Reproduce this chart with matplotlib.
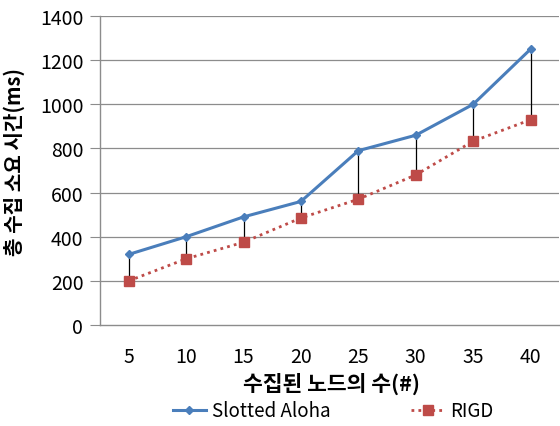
import numpy as np
import matplotlib
matplotlib.use("Agg")
import matplotlib.pyplot as plt

plt.rcParams['font.family'] = ['Noto Sans CJK KR', 'DejaVu Sans']

categories = ["5", "10", "15", "20", "25", "30", "35", "40"]
slotted_aloha = [320, 400, 490, 560, 790, 860, 1000, 1250]
rigd = [200, 300, 375, 485, 570, 680, 833, 930]

blue = "#4a7ebb"
red = "#be4b48"
grid_c = "#8c8c8c"

fig = plt.figure(figsize=(5.6, 4.27), dpi=100)
ax = fig.add_axes([0.1786, 0.2365, 0.82, 0.7235])

x = np.arange(len(categories))

for y in range(200, 1401, 200):
    ax.axhline(y, color=grid_c, lw=0.9, zorder=0)

# high-low lines between the two series
ax.vlines(x, rigd, slotted_aloha, color="black", lw=0.9, zorder=2)

ax.plot(x, slotted_aloha, color=blue, lw=2.2, marker="D", ms=4,
        mfc=blue, mec=blue, label="Slotted Aloha", zorder=3)
ax.plot(x, rigd, color=red, lw=2, ls=(0, (1, 1.5)), marker="s", ms=7,
        mfc=red, mec=red, label="RIGD", zorder=3)

ax.set_xlim(-0.5, len(categories) - 0.5)
ax.set_ylim(0, 1400)
ax.set_yticks(range(0, 1401, 200))
ax.set_xticks(x)
ax.set_xticklabels(categories)

for s in ["top", "right"]:
    ax.spines[s].set_visible(False)
for s in ["left", "bottom"]:
    ax.spines[s].set_color(grid_c)
    ax.spines[s].set_linewidth(1.0)

ax.tick_params(axis="y", length=7, color=grid_c, labelsize=14, pad=5)
ax.tick_params(axis="x", length=0, labelsize=14, pad=15)

ax.set_xlabel("수집된 노드의 수(#)", fontsize=15.5, fontweight="bold")
ax.xaxis.set_label_coords(0.505, -0.15)
ax.set_ylabel("총 수집 소요 시간(ms)", fontsize=14.5, fontweight="bold")
ax.yaxis.set_label_coords(-0.163, 0.53)

fig.legend(loc="center", bbox_to_anchor=(0.595, 0.036), ncol=2, frameon=False,
           fontsize=13.5, handlelength=1.8, columnspacing=4.3, handletextpad=0.3)

fig.savefig("out.png", dpi=100)
